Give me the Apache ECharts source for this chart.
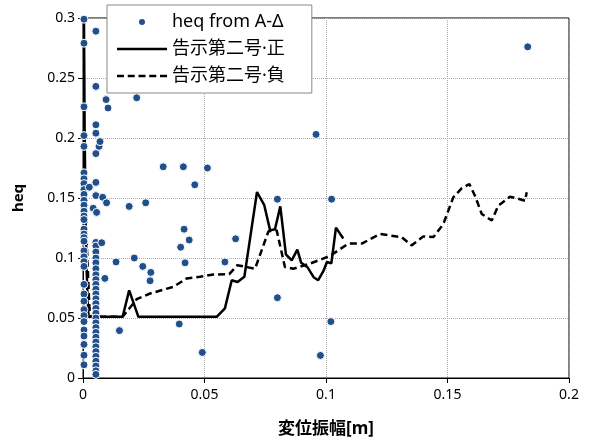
<!DOCTYPE html>
<html>
<head>
<meta charset="utf-8">
<script src="https://cdn.jsdelivr.net/npm/echarts@6/dist/echarts.min.js"></script>
<style>
  html, body { margin: 0; padding: 0; background: #fff; }
  #main { width: 589px; height: 443px; }
</style>
</head>
<body>
<div id="main"></div>
<script>
// heq from A-Δ : 散布点 [変位振幅, heq]
var heqColLeft = [0.299, 0.279, 0.226, 0.202, 0.193, 0.171, 0.166, 0.162, 0.157, 0.153, 0.148, 0.144,
    0.139, 0.135, 0.132, 0.124, 0.120, 0.117, 0.114, 0.106, 0.101, 0.097, 0.093, 0.078, 0.070,
    0.064, 0.057, 0.052, 0.047, 0.040, 0.035, 0.028, 0.019, 0.011];
var heqColRight = [0.289, 0.243, 0.211, 0.204, 0.187, 0.163, 0.152, 0.113, 0.110, 0.105, 0.100,
    0.096, 0.091, 0.086, 0.082, 0.078, 0.074, 0.070, 0.066, 0.062, 0.058, 0.054, 0.050, 0.046,
    0.042, 0.038, 0.034, 0.030, 0.026, 0.022, 0.018, 0.014, 0.010, 0.006, 0.003];
var heqOthers = [
    [0.0026, 0.159], [0.0042, 0.1415], [0.0056, 0.138], [0.0066, 0.193], [0.007, 0.197],
    [0.0081, 0.1506], [0.0097, 0.146], [0.0077, 0.1127], [0.009, 0.083], [0.0095, 0.232],
    [0.0103, 0.225], [0.0136, 0.0967], [0.015, 0.0395], [0.019, 0.143], [0.0211, 0.100],
    [0.0221, 0.2335], [0.0246, 0.093], [0.0258, 0.146], [0.0276, 0.081], [0.0279, 0.088],
    [0.033, 0.176], [0.0396, 0.045], [0.0402, 0.109], [0.0413, 0.176], [0.0416, 0.124],
    [0.042, 0.096], [0.0437, 0.115], [0.046, 0.161], [0.0491, 0.0213], [0.0512, 0.175],
    [0.0584, 0.0967], [0.0628, 0.116], [0.080, 0.149], [0.080, 0.0669], [0.0959, 0.203],
    [0.0977, 0.0188], [0.102, 0.047], [0.1023, 0.149], [0.183, 0.276]
];

// 告示第二号・正
var kokujiPos = [
    [0.0004, 0.3], [0.0007, 0.2], [0.0011, 0.13], [0.0015, 0.09], [0.0019, 0.065], [0.0023, 0.051],
    [0.0163, 0.051], [0.019, 0.073], [0.0228, 0.051], [0.055, 0.051], [0.0584, 0.058],
    [0.0612, 0.0815], [0.0636, 0.080], [0.0664, 0.0843], [0.0716, 0.155], [0.0746, 0.144],
    [0.077, 0.123], [0.079, 0.124], [0.0812, 0.143], [0.0835, 0.103], [0.0859, 0.098],
    [0.0882, 0.107], [0.0898, 0.096], [0.0925, 0.092], [0.0949, 0.084], [0.0968, 0.0815],
    [0.0989, 0.089], [0.1004, 0.0967], [0.1022, 0.0955], [0.1041, 0.1253], [0.1071, 0.1163]
];

// 告示第二号・負
var kokujiNeg = [
    [0.0013, 0.135], [0.0016, 0.11], [0.002, 0.09], [0.0022, 0.08], [0.0026, 0.06], [0.003, 0.051],
    [0.0163, 0.051], [0.0221, 0.0657], [0.0276, 0.0704], [0.0372, 0.076], [0.0427, 0.083],
    [0.0481, 0.0843], [0.0536, 0.0862], [0.0602, 0.0865], [0.0635, 0.094], [0.0708, 0.091],
    [0.0763, 0.1222], [0.0797, 0.123], [0.0831, 0.0925], [0.0865, 0.091], [0.0934, 0.0953],
    [0.1016, 0.1017], [0.1092, 0.112], [0.1147, 0.112], [0.1222, 0.120], [0.1311, 0.1174],
    [0.1352, 0.1105], [0.140, 0.118], [0.1442, 0.1174], [0.1483, 0.1284], [0.1524, 0.1506],
    [0.1558, 0.158], [0.159, 0.1616], [0.1613, 0.1519], [0.1641, 0.1367], [0.1682, 0.1312],
    [0.1709, 0.1436], [0.1757, 0.151], [0.1785, 0.1497], [0.1819, 0.1477], [0.1826, 0.1547]
];

var seriesNames = ['heq from A-Δ', '告示第二号·正', '告示第二号·負'];

var scatterData = heqColLeft.map(function (v) { return [0.0004, v]; })
    .concat(heqColRight.map(function (v) { return [0.0053, v]; }))
    .concat(heqOthers);

var font = '"Noto Sans", "Noto Sans CJK JP", sans-serif';

// 凡例アイコン（線だけ、点なし）
var iconSolid = 'path://M0,0h50v2.5h-50z';
var iconDash = 'path://M0,0h7v2.5h-7z M10.75,0h7v2.5h-7z M21.5,0h7v2.5h-7z M32.25,0h7v2.5h-7z M43,0h7v2.5h-7z';

var option = {
    animation: false,
    backgroundColor: '#fff',
    textStyle: { fontFamily: font },
    grid: {
        left: 83, right: 20, top: 18, bottom: 63,
        show: true, borderColor: '#000', borderWidth: 1
    },
    legend: {
        orient: 'vertical',
        left: 107, top: 5,
        data: [
            { name: seriesNames[0], icon: 'circle' },
            { name: seriesNames[1], icon: iconSolid },
            { name: seriesNames[2], icon: iconDash }
        ],
        backgroundColor: '#fff',
        borderColor: '#888',
        borderWidth: 1,
        padding: [7, 27, 7, 10],
        itemWidth: 50,
        itemHeight: 8,
        itemGap: 7,
        textStyle: { fontSize: 18, color: '#000', lineHeight: 20, fontFamily: font }
    },
    xAxis: {
        type: 'value',
        min: 0, max: 0.2, interval: 0.05,
        name: '変位振幅[m]',
        nameLocation: 'middle',
        nameGap: 43,
        nameTextStyle: { fontSize: 17, fontWeight: 'bold', color: '#000' },
        axisLine: { lineStyle: { color: '#000', width: 1 } },
        axisTick: { show: true, length: 5, lineStyle: { color: '#000' } },
        axisLabel: { fontSize: 14, color: '#000', margin: 10 },
        splitLine: { show: true, lineStyle: { color: '#aaa', type: 'dotted' } }
    },
    yAxis: {
        type: 'value',
        min: 0, max: 0.3, interval: 0.05,
        name: 'heq',
        nameLocation: 'middle',
        nameGap: 57,
        nameTextStyle: { fontSize: 15, fontWeight: 'bold', color: '#000' },
        axisLine: { show: true, lineStyle: { color: '#000', width: 1 } },
        axisTick: { show: true, length: 5, lineStyle: { color: '#000' } },
        axisLabel: { fontSize: 14, color: '#000', margin: 8 },
        splitLine: { show: true, lineStyle: { color: '#aaa', type: 'dotted' } }
    },
    series: [
        {
            name: seriesNames[0],
            type: 'scatter',
            z: 3,
            symbolSize: 8,
            data: scatterData,
            itemStyle: { color: '#214f8b', borderColor: '#fff', borderWidth: 1, opacity: 1 }
        },
        {
            name: seriesNames[1],
            type: 'line',
            z: 2,
            symbol: 'none',
            data: kokujiPos,
            itemStyle: { color: '#000' },
            lineStyle: { color: '#000', width: 2.5 }
        },
        {
            name: seriesNames[2],
            type: 'line',
            z: 2,
            symbol: 'none',
            data: kokujiNeg,
            itemStyle: { color: '#000' },
            lineStyle: { color: '#000', width: 2.5, type: [7, 4] }
        }
    ]
};

var myChart = echarts.init(document.getElementById('main'));
myChart.setOption(option);
</script>
</body>
</html>
